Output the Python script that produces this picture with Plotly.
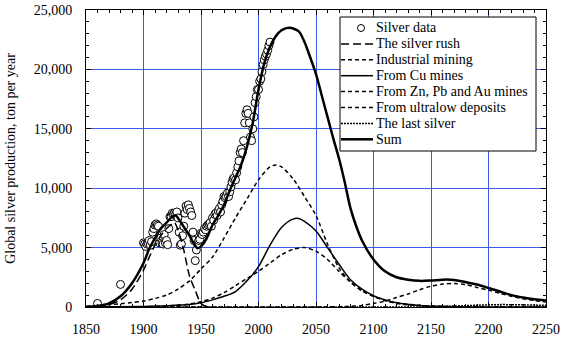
import plotly.graph_objects as go

# ---------------- data ----------------
data_years = [1860, 1880,
              1900, 1901, 1902, 1903, 1904, 1905, 1906, 1907, 1908, 1909,
              1910, 1911, 1912, 1913, 1914, 1915, 1916, 1917, 1918, 1919,
              1920, 1921, 1922, 1923, 1924, 1925, 1926, 1927, 1928, 1929,
              1930, 1931, 1932, 1933, 1934, 1935, 1936, 1937, 1938, 1939,
              1940, 1941, 1942, 1943, 1944, 1945, 1946, 1947, 1948, 1949,
              1950, 1951, 1952, 1953, 1954, 1955, 1956, 1957, 1958, 1959,
              1960, 1961, 1962, 1963, 1964, 1965, 1966, 1967, 1968, 1969,
              1970, 1971, 1972, 1973, 1974, 1975, 1976, 1977, 1978, 1979,
              1980, 1981, 1982, 1983, 1984, 1985, 1986, 1987, 1988, 1989,
              1990, 1991, 1992, 1993, 1994, 1995, 1996, 1997, 1998, 1999,
              2000, 2001, 2002, 2003, 2004, 2005, 2006, 2007, 2008, 2009, 2010]
data_values = [300, 1900,
               5400, 5300, 5100, 5300, 5400, 5600, 5200, 5500, 6300, 6600,
               6900, 7000, 6900, 6800, 5400, 5800, 5400, 5300, 6100, 5400,
               5600, 5250, 6600, 7600, 7600, 7900, 7800, 7900, 7800, 8000,
               7500, 6300, 5200, 5300, 6000, 6800, 7900, 8500, 8200, 8600,
               8300, 8000, 7700, 6300, 5600, 3900, 4800, 5300, 5600, 5700,
               6200, 6100, 6300, 6600, 6500, 6800, 6900, 7000, 7100, 6800,
               7500, 7300, 7800, 7900, 7700, 8100, 8300, 8000, 8600, 8900,
               9300, 9200, 9300, 9600, 9300, 9700, 10100, 10500, 10800, 10900,
               10700, 11300, 11800, 12300, 13000, 13300, 13000, 14000, 15500, 16300,
               16600, 16300, 15500, 14300, 14000, 15000, 16000, 17200, 17700, 18300,
               18300, 19000, 19200, 19800, 20400, 20800, 21100, 21300, 21600, 22000, 22300]

rush_years = [1850, 1860, 1870, 1880, 1890, 1900, 1905, 1910, 1915, 1920, 1925, 1927,
              1930, 1935, 1940, 1945, 1950, 1955, 1960]
rush_values = [0, 50, 200, 600, 1500, 3100, 4200, 5200, 6000, 6600, 7000, 7100,
               6500, 4800, 2600, 1400, 300, 50, 0]

ind_years = [1850, 1860, 1870, 1880, 1890, 1900, 1910, 1920, 1930, 1940, 1950, 1960,
             1970, 1980, 1990, 2000, 2010, 2015, 2020, 2030, 2040, 2050, 2060, 2070,
             2080, 2090, 2100, 2110, 2120, 2130, 2150, 2200, 2250]
ind_values = [50, 120, 200, 280, 380, 500, 720, 1000, 1500, 2200, 3200, 4200,
              5800, 7500, 9100, 10700, 11800, 11950, 11800, 10800, 9300, 7700, 5300, 3300,
              2100, 1350, 900, 550, 300, 180, 60, 10, 0]

cu_years = [1850, 1900, 1920, 1940, 1950, 1960, 1970, 1980, 1990, 2000, 2010, 2020,
            2030, 2035, 2040, 2050, 2060, 2070, 2080, 2090, 2100, 2110, 2120, 2140,
            2160, 2200, 2250]
cu_values = [0, 50, 100, 200, 350, 600, 900, 1300, 2200, 3400, 5200, 6700,
             7400, 7450, 7200, 6400, 5000, 3600, 2300, 1500, 950, 600, 350, 120,
             40, 0, 0]

zn_years = [1850, 1900, 1920, 1940, 1950, 1960, 1970, 1980, 1990, 2000, 2010, 2020,
            2030, 2040, 2050, 2060, 2070, 2080, 2090, 2100, 2110, 2120, 2140, 2160,
            2200, 2250]
zn_values = [0, 20, 80, 250, 450, 750, 1200, 1800, 2400, 3000, 3700, 4400,
             4850, 5000, 4700, 4000, 3000, 2100, 1400, 900, 550, 350, 130, 50,
             0, 0]

ultra_years = [1850, 2000, 2060, 2080, 2090, 2100, 2110, 2120, 2130, 2140, 2150, 2160,
               2170, 2180, 2190, 2200, 2210, 2220, 2230, 2240, 2250]
ultra_values = [0, 0, 10, 50, 130, 300, 500, 800, 1100, 1450, 1750, 1930,
                1980, 1880, 1650, 1420, 1150, 900, 700, 550, 430]

last_years = [1850, 2100, 2130, 2150, 2170, 2190, 2210, 2230, 2250]
last_values = [0, 0, 5, 20, 80, 150, 200, 180, 140]

sum_years = [1850, 1860, 1870, 1880, 1890, 1900, 1905, 1910, 1915, 1920, 1925, 1928,
             1932, 1936, 1940, 1944, 1947, 1950, 1955, 1960, 1965, 1970, 1975, 1980,
             1985, 1990, 1995, 2000, 2005, 2010, 2015, 2020, 2027, 2035, 2040, 2045,
             2050, 2055, 2060, 2065, 2070, 2075, 2080, 2085, 2090, 2100, 2110, 2120,
             2130, 2140, 2150, 2160, 2170, 2180, 2190, 2200, 2210, 2220, 2230, 2240, 2250]
sum_values = [20, 80, 300, 900, 2000, 3700, 4900, 5800, 6600, 7100, 7600, 7700,
              7200, 6600, 6000, 5300, 4950, 5100, 5800, 6900, 7700, 8600, 9800, 10900,
              12000, 13500, 15500, 18300, 20500, 21900, 22800, 23300, 23500, 23200, 22300, 21000,
              19600, 17800, 16000, 14200, 12500, 10500, 8300, 6800, 5600, 4000, 3000, 2500,
              2300, 2200, 2230, 2300, 2280, 2100, 1900, 1600, 1300, 1000, 800, 650, 550]

x_ticks = [1850, 1900, 1950, 2000, 2050, 2100, 2150, 2200, 2250]
y_ticks = [0, 5000, 10000, 15000, 20000, 25000]

legend_names = ["Silver data", "The silver rush", "Industrial mining", "From Cu mines",
                "From Zn, Pb and Au mines", "From ultralow deposits", "The last silver", "Sum"]

# ---------------- figure ----------------
SERIF = "'Liberation Serif', 'Times New Roman', Times, 'DejaVu Serif', serif"
W, H = 563, 337
ML, MR, MT, MB = 86, 17, 10, 30
PW, PH = W - ML - MR, H - MT - MB

fig = go.Figure()

fig.add_trace(go.Scatter(
    x=data_years, y=data_values, mode="markers", name=legend_names[0],
    marker=dict(symbol="circle", size=8, color="white",
                line=dict(color="black", width=1))))

line_specs = [
    (rush_years, rush_values, "8px,4px", 1.5),
    (ind_years, ind_values, "4px,3px", 1.5),
    (cu_years, cu_values, "solid", 1.5),
    (zn_years, zn_values, "4px,3px", 1.5),
    (ultra_years, ultra_values, "4px,3px", 1.5),
    (last_years, last_values, "2px,1px", 1.5),
    (sum_years, sum_values, "solid", 2.5),
]
for (xs, ys, dash, w), name in zip(line_specs, legend_names[1:]):
    fig.add_trace(go.Scatter(
        x=xs, y=ys, mode="lines", name=name,
        line=dict(color="black", width=w, dash=dash, shape="spline", smoothing=0.8)))

# ---- hand-built legend box (paper coordinates) ----
def px2x(px):
    return (px - ML) / PW

def py2y(py):
    return (H - MB - py) / PH

box_l, box_r, box_t, box_b = 340, 536, 17, 151
row0, row_h = 28, 15.9
sample_l, sample_r, text_l = 341, 373, 374

shapes = [dict(type="rect", xref="paper", yref="paper",
               x0=px2x(box_l), x1=px2x(box_r), y0=py2y(box_b), y1=py2y(box_t),
               fillcolor="white", line=dict(color="black", width=1), layer="above")]
annotations = []
for i, name in enumerate(legend_names):
    yc = row0 + i * row_h
    if i == 0:
        cx = 361
        shapes.append(dict(type="circle", xref="paper", yref="paper",
                           x0=px2x(cx - 3.5), x1=px2x(cx + 3.5),
                           y0=py2y(yc + 3.5), y1=py2y(yc - 3.5),
                           fillcolor="white", line=dict(color="black", width=1),
                           layer="above"))
    else:
        _, _, dash, w = line_specs[i - 1]
        shapes.append(dict(type="line", xref="paper", yref="paper",
                           x0=px2x(sample_l), x1=px2x(sample_r),
                           y0=py2y(yc), y1=py2y(yc),
                           line=dict(color="black", width=w, dash=dash), layer="above"))
    annotations.append(dict(text=name, xref="paper", yref="paper",
                            x=px2x(text_l), y=py2y(yc), xanchor="left", yanchor="middle",
                            showarrow=False, font=dict(family=SERIF, size=14, color="black")))

grid_col = "rgb(60,90,235)"
fig.update_layout(
    width=W, height=H,
    margin=dict(l=ML, r=MR, t=MT, b=MB),
    paper_bgcolor="white", plot_bgcolor="white",
    font=dict(family=SERIF, size=14, color="black"),
    showlegend=False,
    shapes=shapes, annotations=annotations,
)
fig.update_xaxes(
    range=[1850, 2250], tickvals=x_ticks, ticktext=[str(v) for v in x_ticks],
    showgrid=True, gridcolor=grid_col, gridwidth=1,
    showline=True, linecolor="black", linewidth=1, mirror="ticks",
    ticks="inside", ticklen=5, tickcolor="black",
    minor=dict(dtick=10, ticks="inside", ticklen=3, tickcolor="black", showgrid=False),
    zeroline=False, tickfont=dict(family=SERIF, size=14), ticklabelstandoff=9,
    automargin=False,
)
fig.update_yaxes(
    range=[0, 25000], tickvals=y_ticks, ticktext=[f"{v:,}" for v in y_ticks],
    showgrid=True, gridcolor=grid_col, gridwidth=1,
    showline=True, linecolor="black", linewidth=1, mirror="ticks",
    ticks="inside", ticklen=5, tickcolor="black",
    minor=dict(dtick=1000, ticks="inside", ticklen=3, tickcolor="black", showgrid=False),
    zeroline=False, tickfont=dict(family=SERIF, size=14), ticklabelstandoff=10,
    automargin=False,
    title=dict(text="Global silver production, ton per year",
               font=dict(family=SERIF, size=14), standoff=14),
)

fig.write_html("out.html")
